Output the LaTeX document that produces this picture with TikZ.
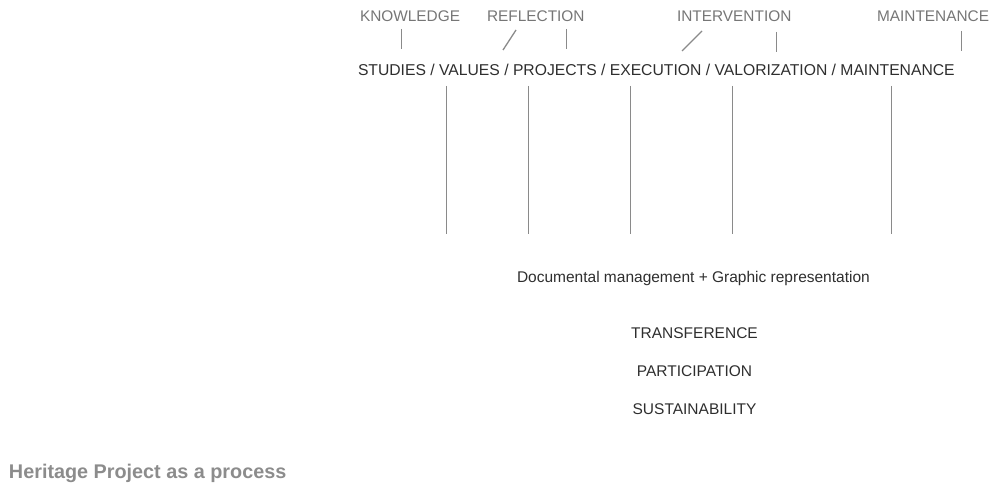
\documentclass[tikz,border=0pt]{standalone}
\usepackage{fontspec}
\setmainfont{Liberation Sans}
\definecolor{maintext}{HTML}{2E2E2E}
\definecolor{toptext}{HTML}{767676}
\definecolor{linegray}{HTML}{8A8A8A}
\definecolor{titlegray}{HTML}{8C8C8C}
\begin{document}
\begin{tikzpicture}[x=1pt,y=-1pt,
  every node/.style={inner sep=0pt,outer sep=0pt},
  phase/.style={anchor=base west,text=toptext,font=\fontsize{15.4}{18}\selectfont},
  stagetext/.style={anchor=base west,text=maintext,font=\fontsize{15.7}{18}\selectfont},
  plaintext/.style={text=maintext,font=\fontsize{15.5}{18}\selectfont},
  titletext/.style={anchor=base west,text=titlegray,font=\bfseries\fontsize{19.8}{22}\selectfont},
  tick/.style={draw=linegray,line width=1.3pt},
  stem/.style={draw=linegray,line width=1.3pt}]
\useasboundingbox (0,0) rectangle (994,486);
% top phases
\node[phase] (know) at (360,21.5) {KNOWLEDGE};
\node[phase] (refl) at (487,21.5) {REFLECTION};
\node[phase] (inter) at (677,21.5) {INTERVENTION};
\node[phase] (maint) at (877,21.5) {MAINTENANCE};
% ticks
\coordinate (k1a) at (401.7,29); \coordinate (k1b) at (401.7,49);
\coordinate (r1a) at (516,30); \coordinate (r1b) at (503,50);
\coordinate (r2a) at (566.7,29); \coordinate (r2b) at (566.7,49);
\coordinate (i1a) at (702,31); \coordinate (i1b) at (682,51);
\coordinate (i2a) at (776.7,32); \coordinate (i2b) at (776.7,52);
\coordinate (m1a) at (961.7,31); \coordinate (m1b) at (961.7,51);
\draw[tick] (k1a) -- (k1b);
\draw[tick] (r1a) -- (r1b);
\draw[tick] (r2a) -- (r2b);
\draw[tick] (i1a) -- (i1b);
\draw[tick] (i2a) -- (i2b);
\draw[tick] (m1a) -- (m1b);
% stages
\node[stagetext] (stages) at (358,76) {STUDIES / VALUES / PROJECTS / EXECUTION / VALORIZATION / MAINTENANCE};
% stems
\foreach \n/\xx in {a/446.2,b/528.7,c/630.3,d/732.3,e/891.3}{
  \coordinate (s\n t) at (\xx,86);
  \coordinate (s\n b) at (\xx,234);
  \draw[stem] (s\n t) -- (s\n b);
}
% lower texts
\node[plaintext,anchor=base west] (doc) at (517,283) {Documental management + Graphic representation};
\node[plaintext,anchor=base] (trans) at (694.5,339) {TRANSFERENCE};
\node[plaintext,anchor=base] (part) at (694.5,377) {PARTICIPATION};
\node[plaintext,anchor=base] (sust) at (694.5,415) {SUSTAINABILITY};
\node[titletext] (title) at (9,478) {Heritage Project as a process};
\end{tikzpicture}
\end{document}
